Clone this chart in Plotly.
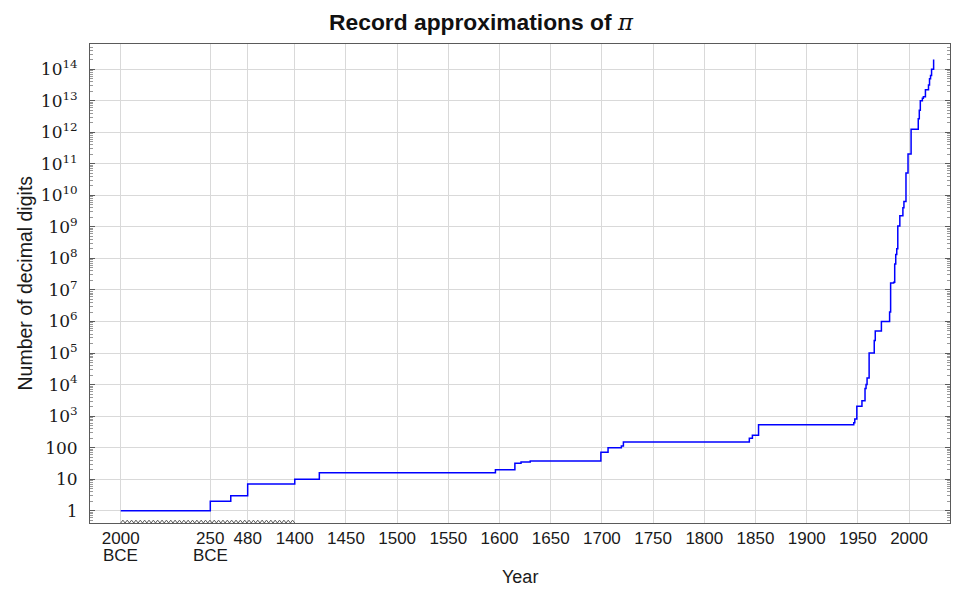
import plotly.graph_objects as go

# record computations of pi: year (negative = BCE) and decimal digits
years = [
    -2000, -250, 150, 480, 1400, 1424, 1596, 1615, 1621, 1630,
    1699, 1706, 1719, 1721, 1844, 1847, 1853, 1946, 1947, 1947,
    1949, 1949, 1954, 1957, 1958, 1959, 1961, 1966, 1967, 1973,
    1981, 1982, 1982, 1982, 1985, 1986, 1986, 1986, 1987, 1988,
    1989, 1989, 1989, 1989, 1989, 1991, 1994, 1995, 1995, 1997,
    1999, 1999, 2002, 2009, 2009, 2010, 2011, 2013, 2014, 2016,
    2019, 2020, 2021, 2022, 2024, 2024,
]
digits = [
    1, 2, 3, 7, 10, 16, 20, 32, 35, 38,
    71, 100, 112, 152, 200, 248, 527, 620, 710, 808,
    1120, 2037, 3092, 7480, 10000, 16167, 100265, 250000, 500000, 1001250,
    2000036, 4194293, 8388576, 16777206, 17526200, 29360111, 33554414, 67108839, 134214700, 201326551,
    480000000, 525229270, 536870898, 1011196691, 1073741799, 2260000000, 4044000000, 4294967286, 6442450938, 51539600000,
    68719470000, 206158430000, 1241100000000, 2576980377524, 2699999990000, 5e12, 1.00000000005e13, 1.21e13, 1.33e13, 2.2459157718361e13,
    3.1415926535897e13, 5e13, 6.2831853071796e13, 1e14, 1.05e14, 2.0211229e14,
]

tick_years = [-2000, -250, 480, 1400, 1450, 1500, 1550, 1600, 1650, 1700,
              1750, 1800, 1850, 1900, 1950, 2000]
tick_labels = ["2000", "250", "480", "1400", "1450", "1500", "1550", "1600", "1650",
               "1700", "1750", "1800", "1850", "1900", "1950", "2000"]
bce_years = [-2000, -250]

y_exponents = list(range(0, 15))
y_labels = ["1", "10", "100"] + [f"10<sup>{e}</sup>" for e in range(3, 15)]

BREAK = 1400  # years before this are squeezed 20:1


def axis_pos(year):
    return year if year >= BREAK else BREAK + (year - BREAK) / 20


SANS = "Liberation Sans"
SERIF = "DejaVu Serif"
AXIS_COL = "#5a5a5a"
GRID_COL = "#d9d9d9"
TEXT_COL = "#1a1a1a"

# page body adds an 8px margin, so the figure is 16px smaller than the window
W, H = 944, 583

fig = go.Figure()
fig.add_trace(go.Scatter(
    x=[axis_pos(y) for y in years],
    y=digits,
    mode="lines",
    line=dict(color="#0000ff", width=1.5, shape="hv"),
    showlegend=False,
    hoverinfo="skip",
))

# zigzag marking the compressed part of the axis
zx0, zx1 = axis_pos(-2000), axis_pos(BREAK)
n_teeth = 40
step = (zx1 - zx0) / (2 * n_teeth)
path = f"M {zx0},0"
for i in range(1, 2 * n_teeth + 1):
    path += f" L {zx0 + i * step},{0.006 if i % 2 else 0}"
fig.add_shape(type="path", path=path, xref="x", yref="paper",
              line=dict(color=AXIS_COL, width=1))

for by in bce_years:
    fig.add_annotation(x=axis_pos(by), y=0, xref="x", yref="paper",
                       text="BCE", showarrow=False, yanchor="middle", yshift=-32,
                       font=dict(family=SANS, size=17, color=TEXT_COL))

# axis titles
fig.add_annotation(x=0.5, y=0, xref="paper", yref="paper", text="Year",
                   showarrow=False, yanchor="middle", yshift=-54,
                   font=dict(family=SANS, size=18, color=TEXT_COL))
fig.add_annotation(x=-0.0767, y=0.5, xref="paper", yref="paper",
                   text="Number of decimal digits", textangle=-90,
                   showarrow=False, xanchor="center", yanchor="middle",
                   font=dict(family=SANS, size=19.5, color=TEXT_COL))

minor_vals = [k * 10 ** e for e in range(-1, 15) for k in range(2, 10)]

fig.update_layout(
    width=W,
    height=H,
    margin=dict(l=82, r=2, t=36, b=68, autoexpand=False),
    paper_bgcolor="white",
    plot_bgcolor="white",
    title=dict(
        text="<b>Record approximations of </b><i><span style=\"font-family:'DejaVu Serif'\">π</span></i>",
        x=473 / W, xanchor="center", xref="container",
        y=1 - 14 / H, yanchor="middle", yref="container",
        font=dict(family=SANS, size=22.8, color="#111"),
    ),
    xaxis=dict(
        range=[1200, 2040],
        automargin=False,
        tickmode="array",
        tickvals=[axis_pos(y) for y in tick_years],
        ticktext=tick_labels,
        tickfont=dict(family=SANS, size=17, color=TEXT_COL),
        showgrid=True, gridcolor=GRID_COL, gridwidth=1,
        showline=True, linecolor=AXIS_COL, linewidth=1, mirror=True,
        ticks="", zeroline=False,
    ),
    yaxis=dict(
        type="log",
        range=[-0.39, 14.8],
        automargin=False,
        tickmode="array",
        tickvals=[10 ** e for e in y_exponents],
        ticktext=y_labels,
        tickfont=dict(family=SERIF, size=17, color=TEXT_COL),
        showgrid=True, gridcolor=GRID_COL, gridwidth=1,
        showline=True, linecolor=AXIS_COL, linewidth=1, mirror="allticks",
        ticks="inside", ticklen=5, tickcolor=AXIS_COL, tickwidth=0.8,
        minor=dict(tickvals=minor_vals, ticks="inside", ticklen=3,
                   tickcolor="#999", tickwidth=0.6, showgrid=False),
        ticklabelstandoff=8,
        zeroline=False,
    ),
)

fig.write_html("out.html")
